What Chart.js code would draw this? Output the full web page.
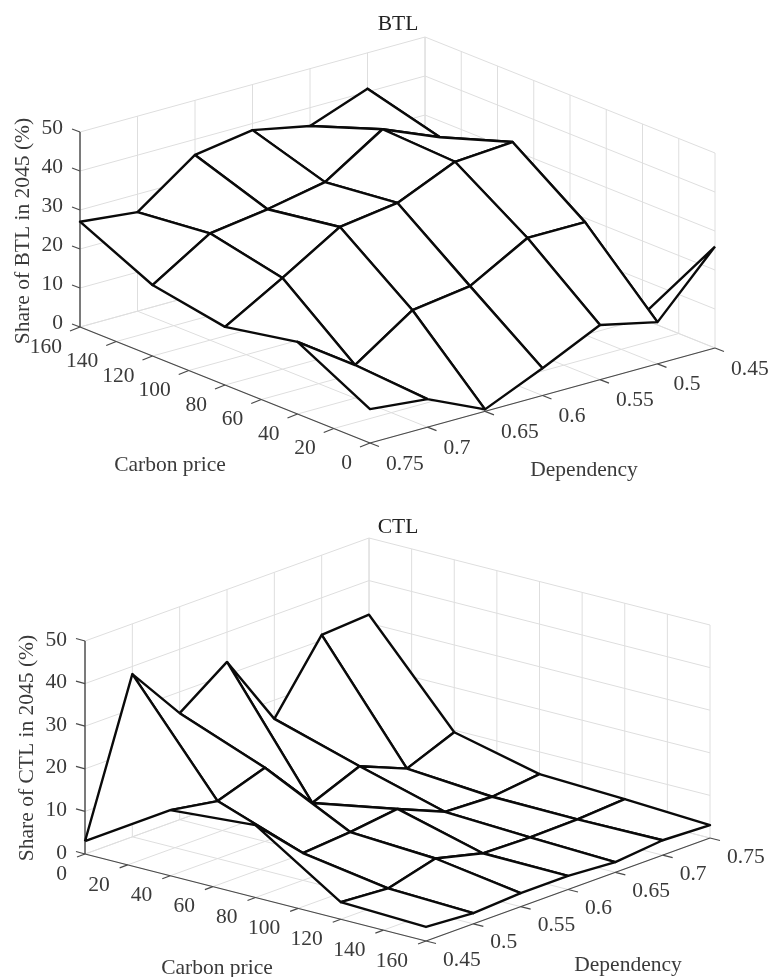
<!DOCTYPE html>
<html>
<head>
<meta charset="utf-8">
<title>BTL and CTL share</title>
<script src="https://cdn.jsdelivr.net/npm/chart.js@4/dist/chart.umd.js"></script>
<style>
  html, body { margin: 0; background: #fff; }
  canvas { position: absolute; left: 0; }
</style>
</head>
<body>
<canvas id="btl" width="770" height="490" style="top:0"></canvas>
<canvas id="ctl" width="770" height="487" style="top:490px"></canvas>
<script>
'use strict';

const carbonTicks = [0, 20, 40, 60, 80, 100, 120, 140, 160];
const depTicks    = [0.45, 0.5, 0.55, 0.6, 0.65, 0.7, 0.75];
const shareTicks  = [0, 10, 20, 30, 40, 50];

// surface is sampled every 40 on carbon price, every tick on dependency
const carbonLevels = [0, 40, 80, 120, 160];

// rows: carbon price, columns: dependency 0.45 .. 0.75
const btlC0   = [26, 10.7, 14, 7, 0.5, 7.2, 8.7];
const btlC40  = [1, 28.9, 28.9, 20.6, 18.5, 8.5, 18.5];
const btlC80  = [10, 42, 41, 34.5, 32.4, 23.4, 14.9];
const btlC120 = [18, 35.8, 41.9, 32.4, 29.5, 27.4, 18.2];
const btlC160 = [15, 40.8, 35.3, 38.3, 36, 25.4, 27];

const ctlC0   = [3, 38.2, 25, 33, 15.6, 31.3, 32];
const ctlC40  = [15.4, 13.5, 17.3, 5, 9.6, 5, 9.5];
const ctlC80  = [17, 6.4, 7.3, 8.7, 4, 3.5, 4.8];
const ctlC120 = [4, 3.2, 6.2, 3.4, 3.1, 3.3, 4];
const ctlC160 = [3.3, 2.5, 3.2, 3.2, 2.4, 3.5, 3];

const GRID = '#dedede';
const AXIS = '#4a4a4a';
const TEXT = '#3a3a3a';
const FONT = '21.5px "Liberation Serif", serif';

function makeView(v) {
  // orthographic view of the box, v.ox/oy is the corner carbon 0, dependency 0.45
  v.p = (c, d, z) => {
    const a = c / 160, b = (d - 0.45) / 0.3;
    return {
      x: v.ox + a * v.cx + b * v.dx,
      y: v.oy + a * v.cy + b * v.dy - z * v.zs - v.top,
    };
  };
  return v;
}

function line(pts, color, width) {
  return {
    data: pts, showLine: true, pointRadius: 0, fill: false, clip: false,
    borderColor: color, borderWidth: width, tension: 0,
  };
}

function gridSets(v) {
  const out = [];
  const cMax = 160, dMin = 0.45, dMax = 0.75, zMax = 50;
  // far corner of the box differs per plot
  const cWall = v.backCarbon, dWall = v.backDep;
  const cFront = cMax - cWall, dFront = dMin + dMax - dWall;
  carbonTicks.forEach(c => {
    out.push(line([v.p(c, dFront, 0), v.p(c, dWall, 0), v.p(c, dWall, zMax)], GRID, 1));
  });
  depTicks.forEach(d => {
    out.push(line([v.p(cFront, d, 0), v.p(cWall, d, 0), v.p(cWall, d, zMax)], GRID, 1));
  });
  shareTicks.forEach(z => {
    out.push(line([v.p(cFront, dWall, z), v.p(cWall, dWall, z), v.p(cWall, dFront, z)], GRID, 1));
  });
  return out;
}

function axisSets(v) {
  const out = [];
  const cWall = v.backCarbon, dWall = v.backDep;
  const cFront = 160 - cWall, dFront = 0.45 + 0.75 - dWall;
  const near = (p, t) => ({ x: p.x + t[0], y: p.y + t[1] });
  // carbon axis runs along the front of the dependency wall side
  const a1 = v.p(cWall, dFront, 0), a2 = v.p(cFront, dFront, 0), a3 = v.p(cFront, dWall, 0);
  out.push(line([a1, a2], AXIS, 1.2));
  out.push(line([a2, a3], AXIS, 1.2));
  const zb = v.p(cWall, dFront, 0), zt = v.p(cWall, dFront, 50);
  out.push(line([zb, zt], AXIS, 1.4));
  carbonTicks.forEach(c => {
    const p = v.p(c, dFront, 0);
    out.push(line([p, near(p, v.carbonTick)], AXIS, 1.2));
  });
  depTicks.forEach(d => {
    const p = v.p(cFront, d, 0);
    out.push(line([p, near(p, v.depTick)], AXIS, 1.2));
  });
  shareTicks.forEach(z => {
    const p = v.p(cWall, dFront, z);
    out.push(line([p, near(p, v.zTick)], AXIS, 1.2));
  });
  return out;
}

function meshSets(v, rows) {
  const quads = [];
  for (let i = 0; i < carbonLevels.length - 1; i++) {
    for (let j = 0; j < depTicks.length - 1; j++) {
      const c0 = carbonLevels[i], c1 = carbonLevels[i + 1];
      const d0 = depTicks[j], d1 = depTicks[j + 1];
      const pts = [
        v.p(c0, d0, rows[i][j]),
        v.p(c1, d0, rows[i + 1][j]),
        v.p(c1, d1, rows[i + 1][j + 1]),
        v.p(c0, d1, rows[i][j + 1]),
        v.p(c0, d0, rows[i][j]),
      ];
      quads.push({ pts, depth: v.p((c0 + c1) / 2, (d0 + d1) / 2, 0).y });
    }
  }
  // painter's order, lower on the floor is nearer the viewer
  quads.sort((a, b) => a.depth - b.depth);
  return quads.map(q => ({
    ...line(q.pts, '#0a0a0a', 2.4),
    fill: 'shape',
    backgroundColor: '#fff',
    borderJoinStyle: 'round',
  }));
}

const labelPlugin = {
  id: 'labels3d',
  afterDraw(chart, args, o) {
    const v = o.view, ctx = chart.ctx;
    const sx = chart.scales.x, sy = chart.scales.y;
    const cWall = v.backCarbon, dWall = v.backDep;
    const cFront = 160 - cWall, dFront = 0.45 + 0.75 - dWall;
    const at = (p, off) => [sx.getPixelForValue(p.x) + off[0], sy.getPixelForValue(p.y) + off[1]];
    ctx.save();
    ctx.font = FONT;
    ctx.fillStyle = TEXT;
    ctx.textBaseline = 'middle';

    ctx.textAlign = 'right';
    shareTicks.forEach(z => {
      const [x, y] = at(v.p(cWall, dFront, z), v.zLabel);
      ctx.fillText(String(z), x, y);
    });
    carbonTicks.forEach(c => {
      const [x, y] = at(v.p(c, dFront, 0), v.carbonLabel);
      ctx.fillText(String(c), x, y);
    });

    ctx.textAlign = 'left';
    depTicks.forEach(d => {
      const [x, y] = at(v.p(cFront, d, 0), v.depLabel);
      ctx.fillText(String(d), x, y);
    });

    ctx.textAlign = 'center';
    ctx.fillText('Carbon price', v.carbonTitle[0], v.carbonTitle[1] - v.top);
    ctx.fillText('Dependency', v.depTitle[0], v.depTitle[1] - v.top);
    ctx.fillStyle = '#222';
    ctx.fillText(v.title, v.titlePos[0], v.titlePos[1] - v.top);

    ctx.fillStyle = TEXT;
    ctx.translate(v.zTitle[0], v.zTitle[1] - v.top);
    ctx.rotate(-Math.PI / 2);
    ctx.fillText(v.zText, 0, 0);
    ctx.restore();
  },
};

function surface(id, v, rows) {
  makeView(v);
  const canvas = document.getElementById(id);
  // Chart.js paints the last dataset first, so build back to front and flip
  const sets = [...gridSets(v), ...axisSets(v), ...meshSets(v, rows)].reverse();
  return new Chart(canvas, {
    type: 'scatter',
    data: { datasets: sets },
    options: {
      responsive: false,
      animation: false,
      layout: { padding: 0 },
      scales: {
        x: { type: 'linear', min: 0, max: canvas.width, display: false },
        y: { type: 'linear', min: 0, max: canvas.height, reverse: true, display: false },
      },
      plugins: {
        legend: { display: false },
        tooltip: { enabled: false },
        labels3d: { view: v },
      },
    },
    plugins: [labelPlugin],
  });
}

surface('btl', {
  ox: 715, oy: 348, cx: -290, cy: -116, dx: -345, dy: 95, zs: 3.9, top: 0,
  backCarbon: 160, backDep: 0.45,
  carbonTick: [-10, 4], depTick: [9, 3.5], zTick: [-8, -3],
  zLabel: [-17, -4], carbonLabel: [-18, 20], depLabel: [16, 21],
  title: 'BTL', titlePos: [398, 24],
  carbonTitle: [170, 465], depTitle: [584, 470],
  zText: 'Share of BTL in 2045 (%)', zTitle: [23, 231],
}, [btlC0, btlC40, btlC80, btlC120, btlC160]);

surface('ctl', {
  ox: 85, oy: 854, cx: 341, cy: 87, dx: 284, dy: -103, zs: 4.26, top: 490,
  backCarbon: 0, backDep: 0.75,
  carbonTick: [-8, 3], depTick: [10, 2.5], zTick: [-9, -2.5],
  zLabel: [-18, -1], carbonLabel: [-18, 20], depLabel: [17, 19],
  title: 'CTL', titlePos: [398, 527],
  carbonTitle: [217, 968], depTitle: [628, 965],
  zText: 'Share of CTL in 2045 (%)', zTitle: [27, 748],
}, [ctlC0, ctlC40, ctlC80, ctlC120, ctlC160]);
</script>
</body>
</html>
